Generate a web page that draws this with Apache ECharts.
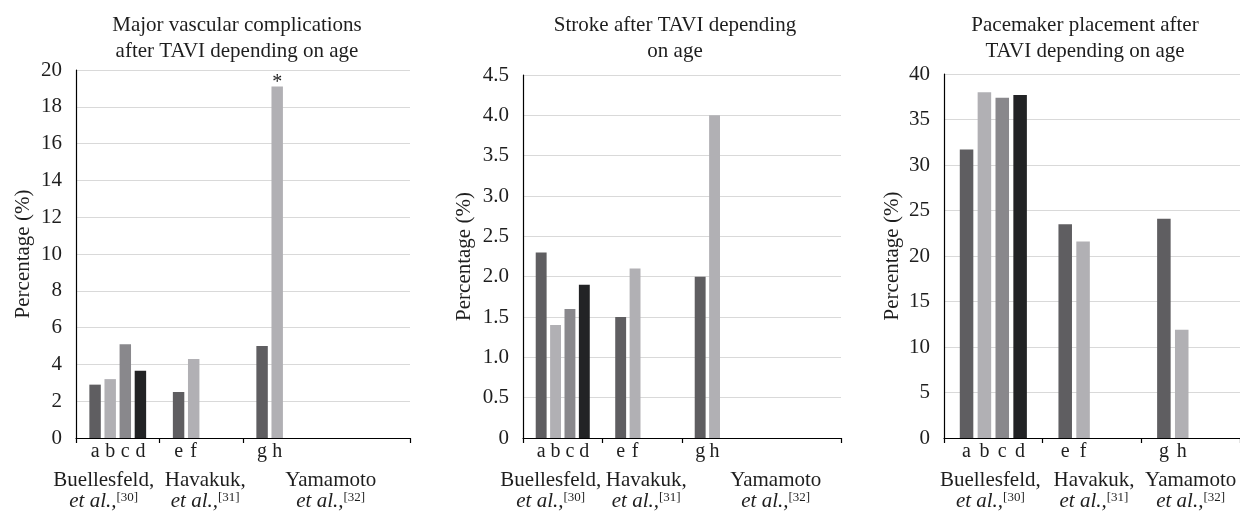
<!DOCTYPE html>
<html>
<head>
<meta charset="utf-8">
<script src="https://cdn.jsdelivr.net/npm/echarts@6/dist/echarts.min.js"></script>
<style>
  html, body { margin: 0; padding: 0; background: #fff; }
  #chart { width: 1240px; height: 512px; }
</style>
</head>
<body>
<div id="chart"></div>
<script>
// study groups on the x axis
var authors = ["Buellesfeld,", "Havakuk,", "Yamamoto"];
var refs = ["[30]", "[31]", "[32]"];
// sub-group letters, per series (a/e/g, b/f/h, c, d)
var letters = [["a", "e", "g"], ["b", "f", "h"], ["c"], ["d"]];

// Major vascular complications (%)
var vascS1 = [2.9, 2.5, 5.0];
var vascS2 = [3.2, 4.3, 19.1];
var vascS3 = [5.1, null, null];
var vascS4 = [3.65, null, null];

// Stroke (%)
var strokeS1 = [2.3, 1.5, 2.0];
var strokeS2 = [1.4, 2.1, 4.0];
var strokeS3 = [1.6, null, null];
var strokeS4 = [1.9, null, null];

// Pacemaker placement (%)
var paceS1 = [31.7, 23.5, 24.1];
var paceS2 = [38.0, 21.6, 11.9];
var paceS3 = [37.4, null, null];
var paceS4 = [37.7, null, null];

var vascTicks = [0, 20, 2];
var strokeTicks = [0, 4.5, 0.5];
var paceTicks = [0, 40, 5];

var titles = [
  "Major vascular complications\nafter TAVI depending on age",
  "Stroke after TAVI depending\non age",
  "Pacemaker placement after\nTAVI depending on age"
];

var colors = ["#5f5e61", "#b1b0b4", "#89888c", "#222325"];
var font = "Liberation Serif";
var txt = "#1e1e1e";

// layout of the three panels
var panels = [
  { left: 76, width: 334, top: 70, height: 370, slots: 4, titleX: 232, nameGap: 42,
    shift: [-28, 8, 92], data: [vascS1, vascS2, vascS3, vascS4], ticks: vascTicks },
  { left: 523, width: 318, top: 75, height: 364, slots: 4, titleX: 670, nameGap: 48,
    shift: [-24, 8, 108], data: [strokeS1, strokeS2, strokeS3, strokeS4], ticks: strokeTicks },
  { left: 944, width: 296, top: 74, height: 365, slots: 3, titleX: 1080, nameGap: 41,
    shift: [-6, 4, 0], data: [paceS1, paceS2, paceS3, paceS4], ticks: paceTicks }
];

var chart = echarts.init(document.getElementById("chart"));

var grid = [], xAxis = [], yAxis = [], title = [], series = [];

panels.forEach(function (p, k) {
  grid.push({ left: p.left, top: p.top, width: p.width, height: p.height });

  title.push({
    text: titles[k],
    left: p.titleX,
    top: 7,
    textAlign: "center",
    textStyle: { fontFamily: font, fontSize: 21, lineHeight: 26, fontWeight: "normal", color: txt }
  });

  var cats = [];
  for (var i = 0; i < p.slots; i++) {
    if (i < authors.length) {
      var sh = p.shift[i];
      cats.push({
        value: authors[i] + "|" + refs[i],
        textStyle: { padding: sh >= 0 ? [0, 0, 0, sh] : [0, -sh, 0, 0] }
      });
    } else {
      cats.push({ value: " " });
    }
  }

  xAxis.push({
    type: "category",
    gridIndex: k,
    data: cats,
    axisLine: { lineStyle: { color: "#000", width: 1.2 } },
    axisTick: {
      show: true,
      // no tick between Yamamoto and the empty slot
      interval: function (idx, val) { return val !== " "; },
      length: 5,
      lineStyle: { color: "#000", width: 1.2 }
    },
    axisLabel: {
      interval: 0,
      margin: 32,
      formatter: function (v) {
        if (v === " ") return "";
        var parts = v.split("|");
        return "{n|" + parts[0] + "}\n{i|et al.,}{s|" + parts[1] + "}";
      },
      rich: {
        n: { fontFamily: font, fontSize: 21, lineHeight: 21, color: txt },
        i: { fontFamily: font, fontSize: 21, lineHeight: 21, fontStyle: "italic", color: txt },
        s: { fontFamily: font, fontSize: 13, lineHeight: 21, verticalAlign: "top", padding: [0, 0, 8, 0], color: txt }
      }
    }
  });

  yAxis.push({
    type: "value",
    gridIndex: k,
    min: p.ticks[0],
    max: p.ticks[1],
    interval: p.ticks[2],
    name: "Percentage (%)",
    nameLocation: "middle",
    nameGap: p.nameGap,
    nameTextStyle: { fontFamily: font, fontSize: 21, color: txt },
    axisLine: { show: true, lineStyle: { color: "#000", width: 1.2 } },
    axisTick: { show: false },
    splitLine: { lineStyle: { color: "#d9d9d9", width: 1.2 } },
    axisLabel: {
      margin: 14,
      fontFamily: font,
      fontSize: 21,
      color: txt,
      formatter: function (v) {
        if (v === 0) return "0";
        return p.ticks[2] < 1 ? v.toFixed(1) : String(v);
      }
    }
  });

  p.data.forEach(function (vals, s) {
    var full = [];
    for (var i = 0; i < p.slots; i++) full.push(i < vals.length ? vals[i] : null);
    var ser = {
      type: "bar",
      xAxisIndex: k,
      yAxisIndex: k,
      data: full,
      barGap: "32%",
      barCategoryGap: "32%",
      itemStyle: { color: colors[s] },
      silent: true,
      label: {
        show: true,
        position: "bottom",
        distance: 4,
        fontFamily: font,
        fontSize: 20,
        color: txt,
        formatter: function (prm) { return letters[s][prm.dataIndex] || ""; }
      }
    };
    // significance mark on the 19 % bar (vascular, Yamamoto)
    if (k === 0 && s === 1) {
      ser.markPoint = {
        symbol: "circle",
        symbolSize: 1,
        itemStyle: { color: "rgba(0,0,0,0)" },
        label: { show: true, position: "top", distance: 0, offset: [0, 7], formatter: "*", fontFamily: font, fontSize: 20, color: txt },
        data: [{ type: "max" }]
      };
    }
    series.push(ser);
  });
});

chart.setOption({
  animation: false,
  textStyle: { fontFamily: font },
  title: title,
  grid: grid,
  xAxis: xAxis,
  yAxis: yAxis,
  series: series
});
</script>
</body>
</html>
